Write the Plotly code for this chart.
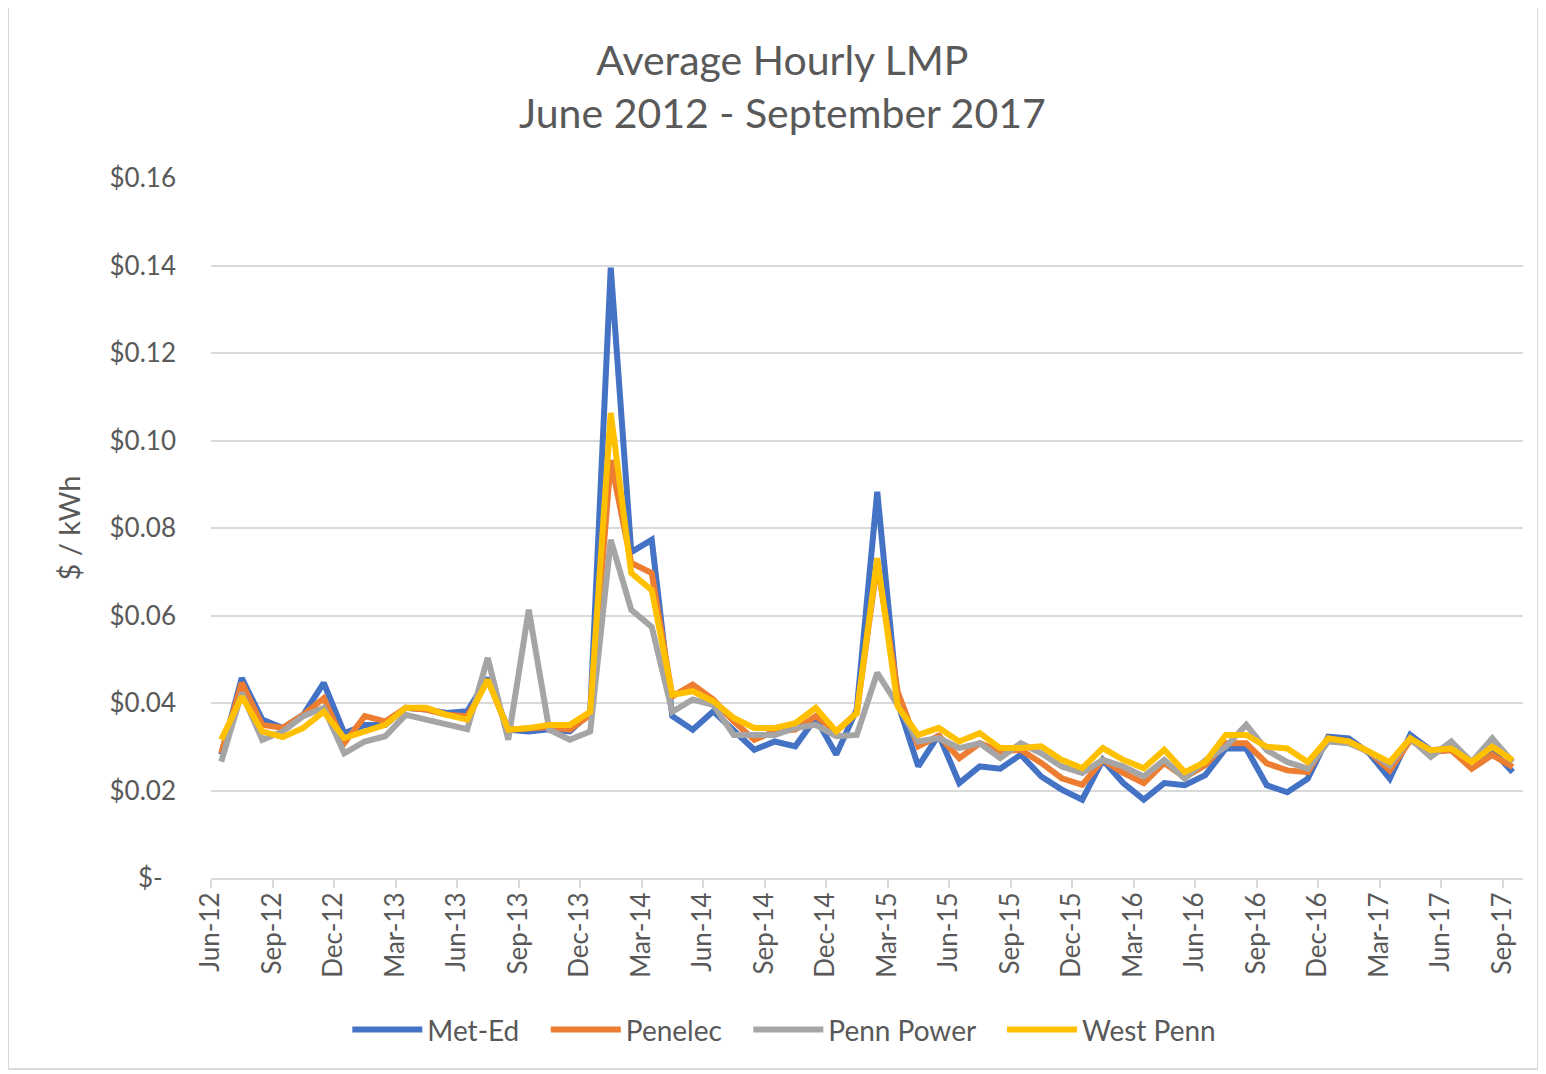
import plotly.graph_objects as go

months = ["Jun-12","Jul-12","Aug-12","Sep-12","Oct-12","Nov-12","Dec-12",
          "Jan-13","Feb-13","Mar-13","Apr-13","May-13","Jun-13","Jul-13","Aug-13","Sep-13","Oct-13","Nov-13","Dec-13",
          "Jan-14","Feb-14","Mar-14","Apr-14","May-14","Jun-14","Jul-14","Aug-14","Sep-14","Oct-14","Nov-14","Dec-14",
          "Jan-15","Feb-15","Mar-15","Apr-15","May-15","Jun-15","Jul-15","Aug-15","Sep-15","Oct-15","Nov-15","Dec-15",
          "Jan-16","Feb-16","Mar-16","Apr-16","May-16","Jun-16","Jul-16","Aug-16","Sep-16","Oct-16","Nov-16","Dec-16",
          "Jan-17","Feb-17","Mar-17","Apr-17","May-17","Jun-17","Jul-17","Aug-17","Sep-17"]

met_ed = [0.0282,0.0457,0.0362,0.0343,0.0373,0.0446,0.0331,0.0350,0.0350,0.0389,0.0385,0.0377,0.0381,
          0.0457,0.0339,0.0335,0.0340,0.0335,0.0378,0.1395,0.0745,0.0773,0.0370,0.0339,0.0381,0.0339,
          0.0293,0.0312,0.0301,0.0366,0.0282,0.0385,0.0883,0.0400,0.0255,0.0327,0.0217,0.0255,0.0250,
          0.0282,0.0232,0.0202,0.0179,0.0270,0.0217,0.0179,0.0217,0.0212,0.0235,0.0296,0.0296,0.0212,
          0.0196,0.0227,0.0323,0.0319,0.0285,0.0227,0.0327,0.0292,0.0296,0.0258,0.0292,0.0242]

penelec = [0.0285,0.0446,0.0350,0.0343,0.0373,0.0411,0.0308,0.0370,0.0358,0.0389,0.0385,0.0373,0.0370,
           0.0453,0.0339,0.0343,0.0345,0.0339,0.0373,0.0955,0.0720,0.0697,0.0415,0.0442,0.0408,0.0358,
           0.0316,0.0335,0.0339,0.0370,0.0335,0.0377,0.0720,0.0425,0.0301,0.0325,0.0274,0.0308,0.0289,
           0.0293,0.0263,0.0228,0.0213,0.0270,0.0240,0.0217,0.0263,0.0230,0.0258,0.0308,0.0308,0.0262,
           0.0246,0.0242,0.0319,0.0312,0.0288,0.0246,0.0315,0.0288,0.0292,0.0250,0.0281,0.0254]

penn_power = [0.0266,0.0423,0.0316,0.0335,0.0370,0.0389,0.0285,0.0312,0.0324,0.0373,0.0362,0.0350,0.0340,
              0.0503,0.0316,0.0613,0.0339,0.0316,0.0335,0.0773,0.0613,0.0574,0.0380,0.0408,0.0396,0.0327,
              0.0327,0.0327,0.0343,0.0350,0.0324,0.0327,0.0469,0.0395,0.0312,0.0320,0.0297,0.0308,0.0274,
              0.0308,0.0285,0.0255,0.0240,0.0270,0.0255,0.0232,0.0270,0.0227,0.0269,0.0300,0.0350,0.0292,
              0.0265,0.0250,0.0312,0.0308,0.0288,0.0258,0.0319,0.0277,0.0312,0.0265,0.0319,0.0265]

west_penn = [0.0316,0.0415,0.0335,0.0322,0.0343,0.0380,0.0320,0.0335,0.0350,0.0389,0.0389,0.0373,0.0362,
             0.0453,0.0339,0.0343,0.0350,0.0350,0.0380,0.1063,0.0697,0.0658,0.0419,0.0427,0.0404,0.0366,
             0.0343,0.0343,0.0354,0.0389,0.0335,0.0377,0.0731,0.0392,0.0327,0.0343,0.0312,0.0331,0.0297,
             0.0297,0.0301,0.0270,0.0251,0.0297,0.0270,0.0251,0.0293,0.0242,0.0265,0.0327,0.0327,0.0300,
             0.0296,0.0265,0.0319,0.0312,0.0290,0.0265,0.0319,0.0292,0.0296,0.0265,0.0300,0.0269]

series_names = ["Met-Ed", "Penelec", "Penn Power", "West Penn"]
series_values = [met_ed, penelec, penn_power, west_penn]
series_colors = ["#4472C4", "#ED7D31", "#A5A5A5", "#FFC000"]

y_ticks = [0, 0.02, 0.04, 0.06, 0.08, 0.10, 0.12, 0.14, 0.16]
y_ticktext = ["$-\u00a0\u00a0", "$0.02", "$0.04", "$0.06", "$0.08", "$0.10", "$0.12", "$0.14", "$0.16"]

x_idx = list(range(len(months)))
tick_idx = list(range(0, len(months), 3))

FONT = "Lato, 'Open Sans', sans-serif"
GRAY = "#595959"

fig = go.Figure()
for name, vals, col in zip(series_names, series_values, series_colors):
    fig.add_trace(go.Scatter(x=x_idx, y=vals, mode="lines", name=name + "\u00a0\u00a0\u00a0",
                             line=dict(color=col, width=6, shape="linear"),
                             hovertemplate="%{text}: $%{y:.4f}<extra>" + name + "</extra>",
                             text=months))

fig.update_layout(
    width=1546, height=1074,
    paper_bgcolor="white", plot_bgcolor="white",
    margin=dict(l=203, r=31, t=170, b=204),
    font=dict(family=FONT, color=GRAY),
    title=dict(text="Average Hourly LMP<br>June 2012 - September 2017",
               x=0.4355, xref="paper", xanchor="center",
               y=0.938, yref="container", yanchor="middle",
               font=dict(size=41, color=GRAY, family=FONT)),
    showlegend=True,
    legend=dict(orientation="h", x=0.445, xanchor="center", y=-0.217, yanchor="middle",
                font=dict(size=28, color=GRAY, family=FONT), itemwidth=70,
                traceorder="normal"),
    xaxis=dict(range=[-0.5, len(months) - 0.5],
               tickvals=[i - 0.5 for i in tick_idx],
               ticktext=[months[i] for i in tick_idx],
               tickangle=-90, tickfont=dict(size=26, color=GRAY, family=FONT),
               showgrid=False, zeroline=False,
               showline=True, linecolor="#D9D9D9", linewidth=2,
               ticks="outside", ticklen=8, tickcolor="#D9D9D9", tickwidth=2,
               ticklabelstandoff=-6),
    yaxis=dict(range=[0, 0.16], tickvals=y_ticks, ticktext=y_ticktext,
               tickfont=dict(size=26, color=GRAY, family=FONT),
               showgrid=True, gridcolor="#D9D9D9", gridwidth=2,
               zeroline=False, showline=False, ticks="", ticklabelstandoff=34,
               title=dict(text="$ / kWh", font=dict(size=29, color=GRAY, family=FONT), standoff=20)),
)

fig.add_shape(type="rect", xref="paper", yref="paper",
              x0=-0.1547, x1=1.0114, y0=-0.273, y1=1.247,
              line=dict(color="#D9D9D9", width=2), fillcolor="rgba(0,0,0,0)", layer="below")

fig.write_html("out.html")
